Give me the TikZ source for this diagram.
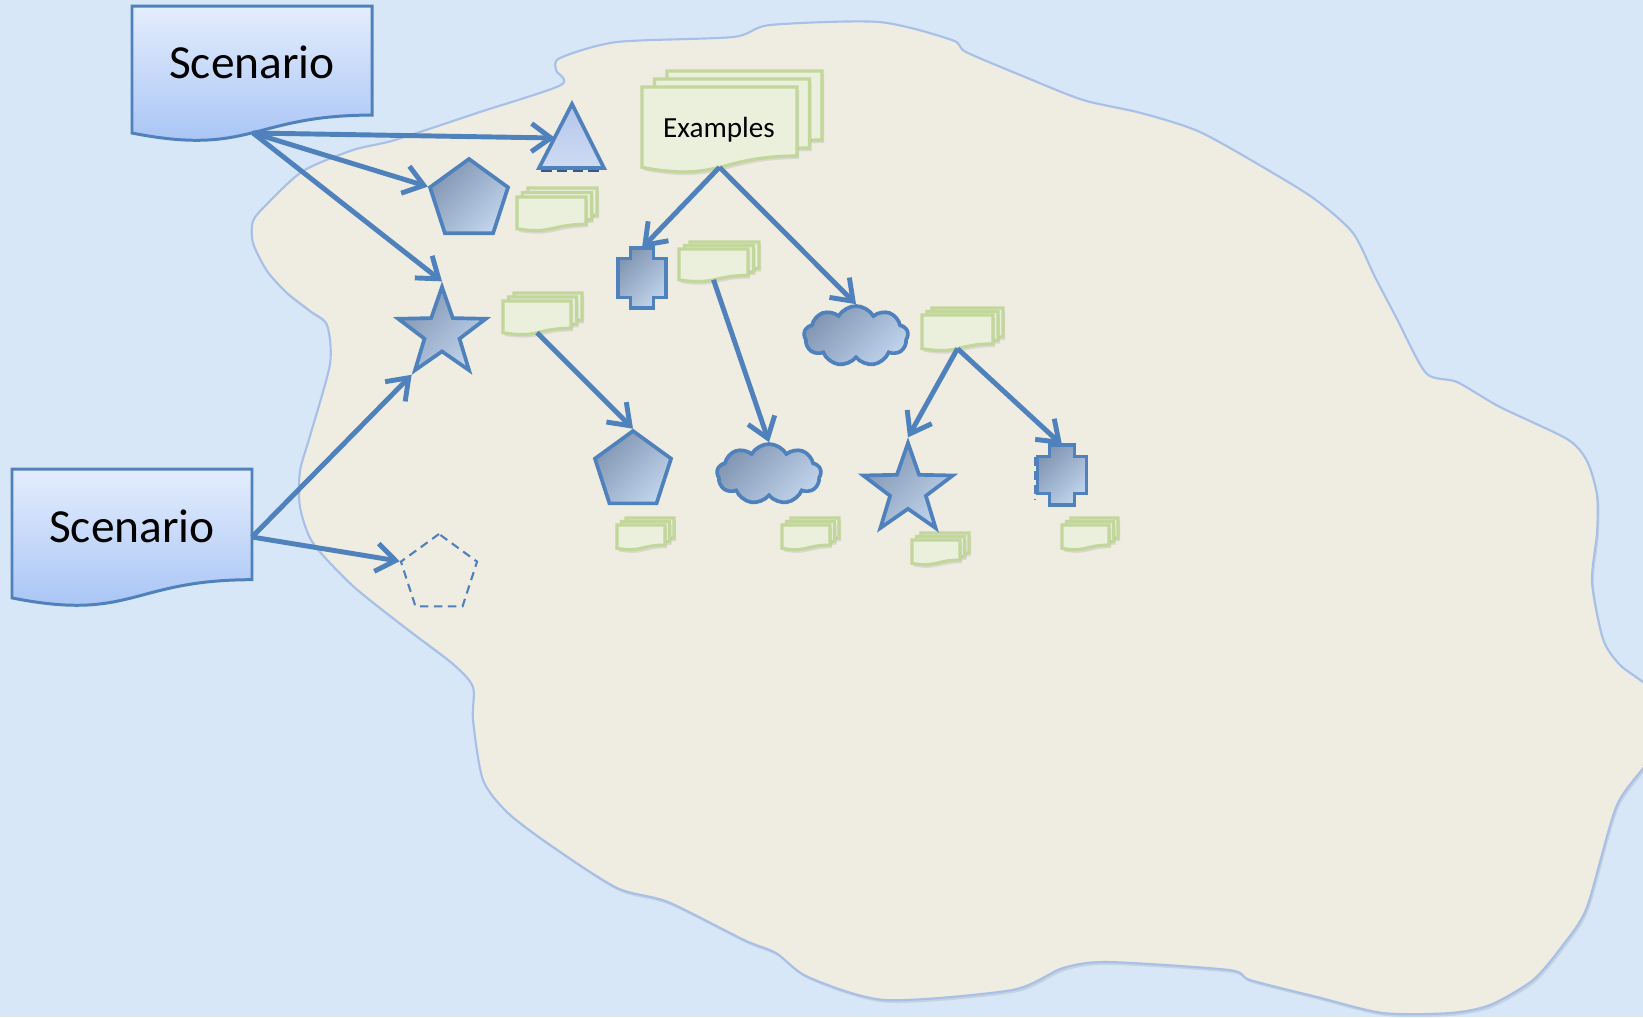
\documentclass[tikz,border=0pt]{standalone}
\usepackage{fontspec}
\setmainfont{Carlito}
\usetikzlibrary{shapes.geometric,shapes.symbols,arrows.meta,shadows}

\definecolor{bgblue}{HTML}{D7E7F7}
\definecolor{land}{HTML}{EFECE1}
\definecolor{coast}{HTML}{A8C0E8}
\definecolor{lineblue}{HTML}{4F81BD}
\definecolor{figdark}{HTML}{8296B3}
\definecolor{figlight}{HTML}{BFD3EC}
\definecolor{tridark}{HTML}{B4C5EA}
\definecolor{trilight}{HTML}{CEDBF3}
\definecolor{sheetfill}{HTML}{EBF0DD}
\definecolor{sheetline}{HTML}{C3D69B}
\definecolor{scentop}{HTML}{E4EDFD}
\definecolor{scenbot}{HTML}{A3C1F5}

\tikzset{
  fig/.style={draw=lineblue, line width=1.05pt, top color=figdark, bottom color=figlight, shading angle=45, inner sep=0pt},
  link/.style={draw=lineblue, line width=1.4pt, -{Straight Barb[length=5.5pt,width=8pt]}},
  sheet/.style={draw=sheetline, fill=sheetfill, line width=0.9pt, drop shadow={opacity=0.18, shadow xshift=0.6pt, shadow yshift=-0.9pt}},
  scen/.style={draw=lineblue, line width=0.85pt, top color=scentop, bottom color=scenbot},
  title/.style={font=\fontsize{13.5}{16}\selectfont, anchor=base, inner sep=0pt},
  note/.style={font=\fontsize{8.3}{10}\selectfont, anchor=base, inner sep=0pt},
}

% one page with a wavy foot: x, y, width, height
\newcommand{\leaf}[5][sheet]{\path [#1] (#2, #3) -- ++(#4, 0) -- ++(0, {0.802*#5}) .. controls ({#2+0.5*#4}, {#3+0.802*#5}) and ({#2+0.5*#4}, {#3+1.1075*#5}) .. (#2, {#3+0.934*#5}) -- cycle;}
% three pages: name, x, y, width, height, dx, dy
\newcommand{\docs}[7]{%
  \leaf{#2+2*#6}{#3+2*#7}{#4}{#5}
  \leaf{#2+#6}{#3+#7}{#4}{#5}
  \leaf{#2}{#3}{#4}{#5}
  \coordinate (#1) at ({#2+0.5*#4}, {#3+0.933*#5});}
% plus shape: name, x, y, arm half width, bar half width, half height, bar half height
\newcommand{\crossbox}[7]{%
  \path [fig] ({#2-#4}, {#3-#6}) -- ({#2+#4}, {#3-#6}) -- ({#2+#4}, {#3-#7}) -- ({#2+#5}, {#3-#7}) -- ({#2+#5}, {#3+#7}) -- ({#2+#4}, {#3+#7}) -- ({#2+#4}, {#3+#6}) -- ({#2-#4}, {#3+#6}) -- ({#2-#4}, {#3+#7}) -- ({#2-#5}, {#3+#7}) -- ({#2-#5}, {#3-#7}) -- ({#2-#4}, {#3-#7}) -- cycle;
  \coordinate (#1) at (#2, {#3-#6});}

\begin{document}
\begin{tikzpicture}[x=0.01cm, y=-0.01cm]

    \useasboundingbox (0, 0) rectangle (1643, 1017);
    \fill [bgblue] (0, 0) rectangle (1643, 1017);

    \path [draw=coast, fill=land, line width=0.6pt, drop shadow={opacity=0.2, shadow xshift=0.5pt, shadow yshift=-0.8pt}]
      plot [smooth cycle, tension=0.45] coordinates {(395, 140) (480, 112) (561, 85) (556, 70) (560, 58) (617, 42) (733, 37) (770, 25) (879, 22) (952, 40) (966, 52) (1025, 77) (1083, 100) (1141, 113) (1200, 132) (1273, 173) (1316, 200) (1353, 233) (1375, 277) (1396, 317) (1426, 373) (1457, 382) (1500, 407) (1567, 439) (1587, 461) (1597, 495) (1597, 533) (1592, 582) (1603, 639) (1620, 665) (1655, 695) (1655, 750) (1617, 805) (1587, 907) (1563, 945) (1533, 980) (1490, 1005) (1450, 1013) (1383, 1013) (1317, 997) (1250, 980) (1229, 970) (1108, 962) (1063, 968) (1012, 990) (885, 1000) (808, 977) (776, 953) (744, 940) (668, 902) (617, 888) (553, 847) (508, 813) (483, 780) (473, 720) (473, 687) (453, 664) (407, 629) (353, 586) (313, 543) (300, 507) (300, 471) (310, 436) (330, 364) (327, 325) (310, 311) (287, 293) (267, 271) (253, 243) (253, 221) (267, 204) (303, 171) (353, 150)};

    \leaf[scen]{132}{6}{240}{136}
    \leaf[scen]{12}{469}{240}{138}
    \node [title] (a) at (252, 78) {Scenario};
    \node [title] (i) at (132, 542) {Scenario};
    \coordinate (a1) at (253, 133);
    \coordinate (i1) at (252, 537);

    \docs{j1}{642}{87}{155}{86}{12.5}{-8}
    \node [note] (j) at (719, 137) {Examples};
    \docs{e}{517}{197}{69}{34}{5.5}{-4.5}
    \docs{f}{679}{249}{69}{33}{5.5}{-3.5}
    \docs{g}{503}{301}{68}{34}{5.5}{-4}
    \docs{h}{922}{315}{71}{36}{5}{-3.5}
    \docs{s}{617}{525}{48}{25}{4.5}{-3.5}
    \docs{t}{782}{525}{48}{25}{4.5}{-3.5}
    \docs{u}{912}{540}{48}{25}{4.5}{-3.5}
    \docs{v}{1062}{525}{47}{25}{4.5}{-3.5}

    \path [fig, top color=tridark, bottom color=trilight] (572, 104) -- (604, 168) -- (539, 168) -- cycle;
    \draw [draw=lineblue!70!black, line width=0.8pt, dash pattern=on 3pt off 1.5pt] (541, 171) -- (603, 171);
    \coordinate (c) at (555, 138);

    \node [fig, regular polygon, regular polygon sides=5, minimum size=0.82cm] (b) at (469, 200) {};
    \node [fig, star, star points=5, star point ratio=2.5, minimum size=0.92cm] (d) at (442, 333) {};
    \node [regular polygon, regular polygon sides=5, draw=lineblue, line width=0.6pt, dash pattern=on 2.4pt off 1.6pt, minimum size=0.8cm, inner sep=0pt] (k) at (439, 574) {};
    \crossbox{l}{642}{278}{11.5}{24}{30}{19.5}
    \node [fig, cloud, cloud puffs=9, cloud puff arc=120, aspect=1.7, minimum width=1.04cm, minimum height=0.6cm] (m) at (856, 336) {};
    \node [fig, regular polygon, regular polygon sides=5, minimum size=0.8cm] (p) at (633, 471) {};
    \node [fig, cloud, cloud puffs=9, cloud puff arc=120, aspect=1.7, minimum width=1.04cm, minimum height=0.6cm] (n) at (769, 474) {};
    \node [fig, star, star points=5, star point ratio=2.5, minimum size=0.94cm] (q) at (908, 490) {};
    \crossbox{r}{1062}{475}{12.5}{24.5}{30}{18.5}
    \draw [lineblue, line width=0.8pt, dash pattern=on 2.5pt off 1.5pt] (1035, 457) -- (1035, 500);

    \draw [link] (a1) to (c);
    \draw [link] (a1) to (b.corner 2);
    \draw [link] (a1) to (d.outer point 1);
    \draw [link] (i1) to (d.outer point 3);
    \draw [link] (i1) to (k.corner 2);
    \draw [link] (j1) to (l);
    \draw [link] (j1) to (m.north);
    \draw [link] (g) to (p.corner 1);
    \draw [link] (f) to (n.north);
    \draw [link] (h) to (q.outer point 1);
    \draw [link] (h) to (r);

\end{tikzpicture}
\end{document}
